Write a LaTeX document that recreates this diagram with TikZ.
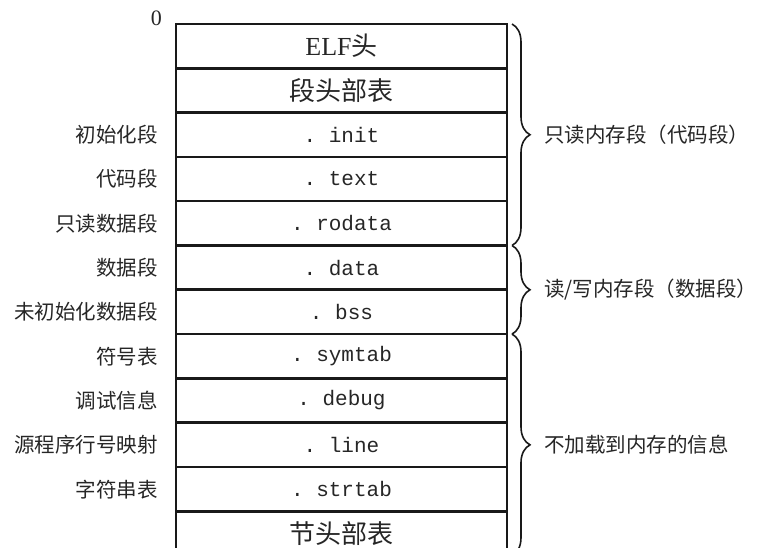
\documentclass[tikz,border=0pt]{standalone}
\usepackage{fontspec}
\setmainfont{Liberation Serif}
\newfontfamily\cjk{Noto Sans CJK SC}
\newfontfamily\mono{Liberation Mono}
\usetikzlibrary{decorations.pathreplacing,calc}
\begin{document}
\begin{tikzpicture}[x=1pt,y=1pt,
  rowbox/.style={draw=black!90, line width=2.6pt, minimum width=331pt, minimum height=44.3pt, inner sep=0pt, outer sep=0pt, text=black!85},
  monotxt/.style={font=\fontsize{21}{21}\mono},
  cjktxt/.style={font=\fontsize{26}{26}\cjk},
  leftlbl/.style={anchor=east, font=\fontsize{20.5}{20.5}\cjk, text=black!85, inner sep=0pt},
  rightlbl/.style={anchor=west, font=\fontsize{20.5}{20.5}\cjk, text=black!85, inner sep=0pt},
  bracedeco/.style={decorate, decoration={brace, amplitude=18pt}, line width=1.6pt, draw=black!90}
]
\useasboundingbox (0,0) rectangle (758,-548);
\def\rh{44.3}
% rows
\node[rowbox, cjktxt] (r0) at (341.5,{-24-\rh*0.5}) {{\rmfamily ELF}头};
\node[rowbox, cjktxt] (r1) at (341.5,{-24-\rh*1.5}) {段头部表};
\node[rowbox, monotxt] (r2) at (341.5,{-24-\rh*2.5}) {.~init};
\node[rowbox, monotxt] (r3) at (341.5,{-24-\rh*3.5}) {.~text};
\node[rowbox, monotxt] (r4) at (341.5,{-24-\rh*4.5}) {.~rodata};
\node[rowbox, monotxt] (r5) at (341.5,{-24-\rh*5.5}) {.~data};
\node[rowbox, monotxt] (r6) at (341.5,{-24-\rh*6.5}) {.~bss};
\node[rowbox, monotxt] (r7) at (341.5,{-24-\rh*7.5}) {.~symtab};
\node[rowbox, monotxt] (r8) at (341.5,{-24-\rh*8.5}) {.~debug};
\node[rowbox, monotxt] (r9) at (341.5,{-24-\rh*9.5}) {.~line};
\node[rowbox, monotxt] (r10) at (341.5,{-24-\rh*10.5}) {.~strtab};
\node[rowbox, cjktxt] (r11) at (341.5,{-24-\rh*11.5}) {节头部表};
% zero
\node[anchor=east, font=\fontsize{22}{22}\selectfont, text=black!85, inner sep=0pt] (zero) at (162,-18) {0};
% left labels
\node[leftlbl] (l2) at (158,{-24-\rh*2.5}) {初始化段};
\node[leftlbl] (l3) at (158,{-24-\rh*3.5}) {代码段};
\node[leftlbl] (l4) at (158,{-24-\rh*4.5}) {只读数据段};
\node[leftlbl] (l5) at (158,{-24-\rh*5.5}) {数据段};
\node[leftlbl] (l6) at (158,{-24-\rh*6.5}) {未初始化数据段};
\node[leftlbl] (l7) at (158,{-24-\rh*7.5}) {符号表};
\node[leftlbl] (l8) at (158,{-24-\rh*8.5}) {调试信息};
\node[leftlbl] (l9) at (158,{-24-\rh*9.5}) {源程序行号映射};
\node[leftlbl] (l10) at (158,{-24-\rh*10.5}) {字符串表};
% braces
\coordinate (b1s) at ([xshift=5pt]r0.north east);
\coordinate (b1e) at ([xshift=5pt]r4.south east);
\coordinate (b2s) at ([xshift=5pt]r5.north east);
\coordinate (b2e) at ([xshift=5pt]r6.south east);
\coordinate (b3s) at ([xshift=5pt]r7.north east);
\coordinate (b3e) at ([xshift=5pt]r11.south east);
\draw[bracedeco] (b1s) -- (b1e);
\draw[bracedeco] (b2s) -- (b2e);
\draw[bracedeco] (b3s) -- (b3e);
\node[rightlbl] (t1) at ([xshift=32pt]$(b1s)!0.5!(b1e)$) {只读内存段（代码段）};
\node[rightlbl] (t2) at ([xshift=32pt]$(b2s)!0.5!(b2e)$) {读/写内存段（数据段）};
\node[rightlbl] (t3) at ([xshift=32pt]$(b3s)!0.5!(b3e)$) {不加载到内存的信息};
\end{tikzpicture}
\end{document}
